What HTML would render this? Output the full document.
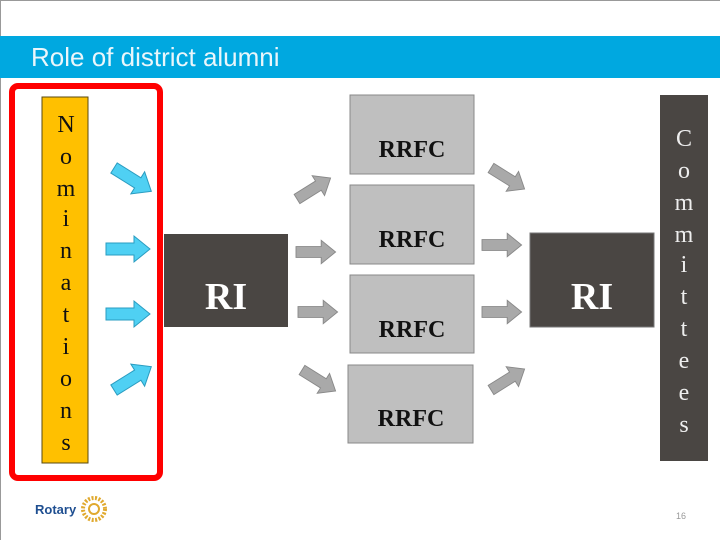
<!DOCTYPE html>
<html><head><style>
body{margin:0;width:720px;height:540px;overflow:hidden;background:#fff}
svg{display:block}
</style></head><body>
<svg width="720" height="540" viewBox="0 0 720 540" xmlns="http://www.w3.org/2000/svg">
<defs>
<polygon id="ar" points="0,-6 28,-6 28,-13 44,0 28,13 28,6 0,6"/>
</defs>
<rect x="0.5" y="0.5" width="730" height="560" fill="#fff" stroke="#999"/>
<rect x="0" y="36" width="720" height="42" fill="#00a8e0"/>
<text x="31" y="66" font-family="Liberation Sans, sans-serif" font-size="26" fill="#eaf6fb">Role of district alumni</text>
<rect x="12" y="86" width="148" height="392" rx="6" fill="none" stroke="#f00" stroke-width="6"/>
<rect x="42" y="97" width="46" height="366" fill="#ffc000" stroke="#5a4a10"/>
<g font-family="Liberation Serif, serif" font-size="24" fill="#111" text-anchor="middle">
<text x="66" y="132">N</text><text x="66" y="164">o</text><text x="66" y="196">m</text><text x="66" y="226">i</text><text x="66" y="258">n</text><text x="66" y="290">a</text><text x="66" y="322">t</text><text x="66" y="354">i</text><text x="66" y="386">o</text><text x="66" y="418">n</text><text x="66" y="450">s</text>
</g>
<g fill="#4fd0f3" stroke="#2a9cc0">
<use href="#ar" transform="translate(114,168) rotate(32)"/>
<use href="#ar" transform="translate(106,249)"/>
<use href="#ar" transform="translate(106,314)"/>
<use href="#ar" transform="translate(114,390) rotate(-32)"/>
</g>
<rect x="164" y="234" width="124" height="93" fill="#4a4643"/>
<text x="226" y="309" font-family="Liberation Serif, serif" font-size="38" font-weight="bold" fill="#fff" text-anchor="middle">RI</text>
<rect x="530" y="233" width="124" height="94" fill="#4a4643" stroke="#777"/>
<text x="592" y="309" font-family="Liberation Serif, serif" font-size="38" font-weight="bold" fill="#fff" text-anchor="middle">RI</text>
<g fill="#bfbfbf" stroke="#888">
<rect x="350" y="95" width="124" height="79"/>
<rect x="350" y="185" width="124" height="79"/>
<rect x="350" y="275" width="124" height="78"/>
<rect x="348" y="365" width="125" height="78"/>
</g>
<g font-family="Liberation Serif, serif" font-size="24" font-weight="bold" fill="#111" text-anchor="middle">
<text x="412" y="157">RRFC</text><text x="412" y="247">RRFC</text><text x="412" y="337">RRFC</text><text x="411" y="426">RRFC</text>
</g>
<g fill="#a9a9a9" stroke="#888">
<use href="#ar" transform="translate(297,199) rotate(-32) scale(0.9)"/>
<use href="#ar" transform="translate(296,252) scale(0.9)"/>
<use href="#ar" transform="translate(298,312) scale(0.9)"/>
<use href="#ar" transform="translate(302,370) rotate(32) scale(0.9)"/>
<use href="#ar" transform="translate(491,168) rotate(32) scale(0.9)"/>
<use href="#ar" transform="translate(482,245) scale(0.9)"/>
<use href="#ar" transform="translate(482,312) scale(0.9)"/>
<use href="#ar" transform="translate(491,390) rotate(-32) scale(0.9)"/>
</g>
<rect x="660" y="95" width="48" height="366" fill="#4a4643"/>
<g font-family="Liberation Serif, serif" font-size="24" fill="#eee" text-anchor="middle">
<text x="684" y="146">C</text><text x="684" y="178">o</text><text x="684" y="210">m</text><text x="684" y="242">m</text><text x="684" y="272">i</text><text x="684" y="304">t</text><text x="684" y="336">t</text><text x="684" y="368">e</text><text x="684" y="400">e</text><text x="684" y="432">s</text>
</g>
<text x="35" y="514" font-family="Liberation Sans, sans-serif" font-size="13" font-weight="bold" fill="#1f4f91">Rotary</text>
<circle cx="94" cy="509" r="11" fill="none" stroke="#e0a92e" stroke-width="4" stroke-dasharray="2 1.5"/>
<circle cx="94" cy="509" r="5" fill="none" stroke="#e0a92e" stroke-width="2"/>
<text x="676" y="519" font-family="Liberation Sans, sans-serif" font-size="9" fill="#999">16</text>
</svg>
</body></html>
